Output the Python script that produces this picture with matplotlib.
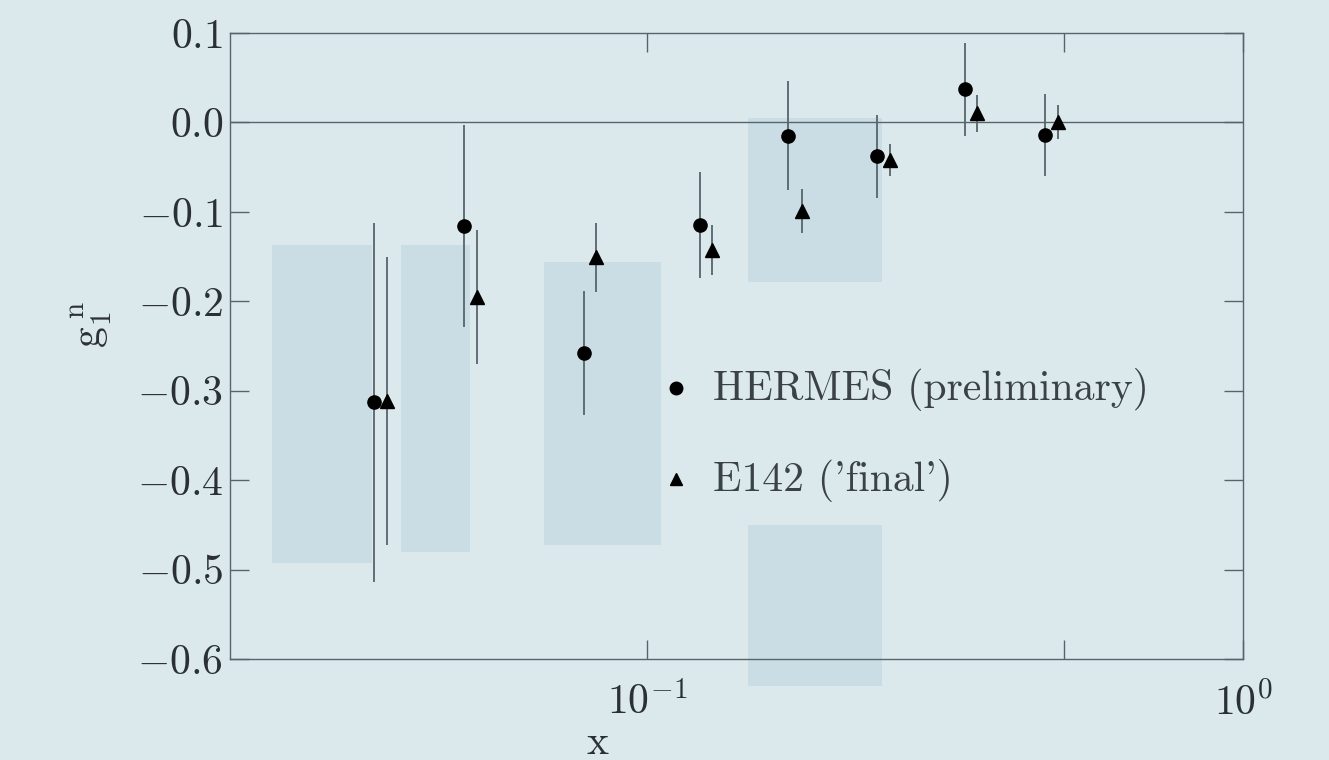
import numpy as np
import matplotlib
matplotlib.use("Agg")
import matplotlib.pyplot as plt
from matplotlib.patches import Rectangle

plt.rcParams['mathtext.fontset'] = 'cm'
plt.rcParams['font.family'] = ['cmr10', 'DejaVu Serif']

# HERMES preliminary g1n points
hermes_x = [0.0349, 0.0494, 0.0784, 0.1228, 0.1728, 0.2433, 0.3415, 0.4661]
hermes_g1n = [-0.313, -0.116, -0.258, -0.115, -0.015, -0.038, 0.037, -0.014]
hermes_err = [0.201, 0.113, 0.069, 0.059, 0.061, 0.046, 0.052, 0.046]

# E142 final g1n points
e142_x = [0.0366, 0.0519, 0.0823, 0.1287, 0.1820, 0.2554, 0.3585, 0.4894]
e142_g1n = [-0.311, -0.195, -0.151, -0.143, -0.099, -0.042, 0.010, 0.000]
e142_err = [0.161, 0.075, 0.039, 0.028, 0.025, 0.018, 0.021, 0.019]

ytick_vals = [0.1, 0.0, -0.1, -0.2, -0.3, -0.4, -0.5, -0.6]
ytick_text = ['$0.1$', '$0.0$', '$-0.1$', '$-0.2$', '$-0.3$', '$-0.4$', '$-0.5$', '$-0.6$']

paper = '#dce9ec'
shade = '#cadde5'
ink = '#56646c'

fig = plt.figure(figsize=(13.29, 7.60), dpi=100, facecolor=paper)

# darker patches of the scanned page (figure fraction), kept under the axes
for (x0, y0, w, h) in [(0.205, 0.259, 0.075, 0.419), (0.302, 0.274, 0.052, 0.403),
                       (0.409, 0.283, 0.088, 0.372), (0.563, 0.629, 0.101, 0.216),
                       (0.563, 0.097, 0.101, 0.212)]:
    fig.patches.append(Rectangle((x0, y0), w, h, transform=fig.transFigure,
                                 facecolor=shade, edgecolor='none', zorder=-5))

ax = fig.add_axes([0.1731, 0.1329, 0.7622, 0.8237])
ax.set_zorder(1)
ax.set_facecolor('none')

ax.axhline(0.0, color=ink, lw=1.0, zorder=1)

ax.errorbar(hermes_x, hermes_g1n, yerr=hermes_err, fmt='o', color='black',
            ms=9.5, ecolor=ink, elinewidth=1.3, capsize=0, zorder=3)
ax.errorbar(e142_x, e142_g1n, yerr=e142_err, fmt='^', color='black',
            ms=10, ecolor=ink, elinewidth=1.3, capsize=0, zorder=3)

ax.set_xscale('log')
ax.set_xlim(0.02, 1.0)
ax.set_ylim(-0.6, 0.1)

ax.set_xticks([0.1, 1.0])
ax.set_xticklabels([r'$10^{-1}$', r'$10^{0}$'])
ax.set_xticks([0.5], minor=True)
ax.set_xticklabels([''], minor=True)
ax.set_yticks(ytick_vals)
ax.set_yticklabels(ytick_text)

ax.tick_params(axis='both', which='both', direction='in', top=True, right=True,
               length=14, width=1.0, color=ink, labelsize=30, labelcolor='#2a3034')
ax.tick_params(axis='x', pad=17)
ax.tick_params(axis='y', pad=5)
for s in ax.spines.values():
    s.set_color(ink)
    s.set_linewidth(1.0)

ax.set_xlabel(r'$\mathrm{x}$', fontsize=30, color='#2a3034')
ax.xaxis.set_label_coords(0.363, -0.105)
ax.set_ylabel(r'$\mathrm{g}_{1}^{\;\mathrm{n}}$', fontsize=30, color='#2a3034')
ax.yaxis.set_label_coords(-0.115, 0.535)

# key, drawn in axes fraction
ax.plot([0.4403], [0.4329], 'o', color='black', ms=9, transform=ax.transAxes)
ax.plot([0.4403], [0.2875], '^', color='black', ms=8, transform=ax.transAxes)
ax.text(0.4768, 0.4137, "HERMES (preliminary)", fontsize=30, color='#3a4248',
        va='baseline', transform=ax.transAxes)
ax.text(0.4768, 0.2684, "E142 ('final')", fontsize=30, color='#3a4248',
        va='baseline', transform=ax.transAxes)

fig.savefig('out.png', dpi=100, facecolor=paper)
